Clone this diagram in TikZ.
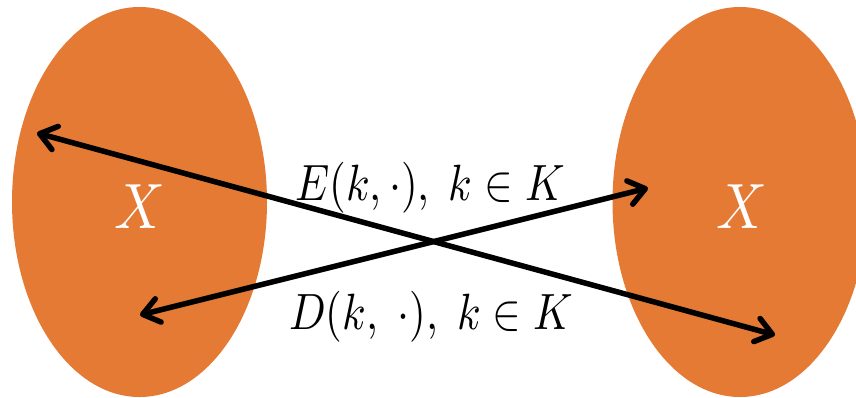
\documentclass[tikz,border=0pt]{standalone}
\usetikzlibrary{arrows.meta,shapes.geometric}
\definecolor{setorange}{RGB}{228,122,52}
\tikzset{
  setblob/.style={ellipse, fill=setorange, draw=none, minimum width=255pt, minimum height=390pt, inner sep=0pt},
  setlabel/.style={text=white, xscale=5.6, yscale=6.4},
  maplabel/.style={text=black, xscale=4.3, yscale=5.1, inner sep=0pt},
  maparrow/.style={line width=5.5pt, {Straight Barb[length=16pt,width=24pt,line cap=round,line join=round]}-{Straight Barb[length=16pt,width=24pt,line cap=round,line join=round]}}
}
\begin{document}
\begin{tikzpicture}[x=1pt,y=-1pt]
\useasboundingbox (0,0) rectangle (856,397);
\node[setblob] (L) at (139.5,202) {};
\node[setblob] (R) at (740,202) {};
\node[setlabel] (LX) at (140,207) {$X$};
\node[setlabel] (RX) at (742,207) {$X$};
\coordinate (a1) at (37,133);
\coordinate (a2) at (775,335);
\coordinate (b1) at (140,315);
\coordinate (b2) at (648,188);
\draw[maparrow] (a1) -- (a2);
\draw[maparrow] (b1) -- (b2);
\node[maplabel, anchor=base] (E) at (430,200) {$E(k,\cdot),\; k\in K$};
\node[maplabel, anchor=base] (D) at (431,329) {$D(k,\;\cdot),\; k\in K$};
\end{tikzpicture}
\end{document}
